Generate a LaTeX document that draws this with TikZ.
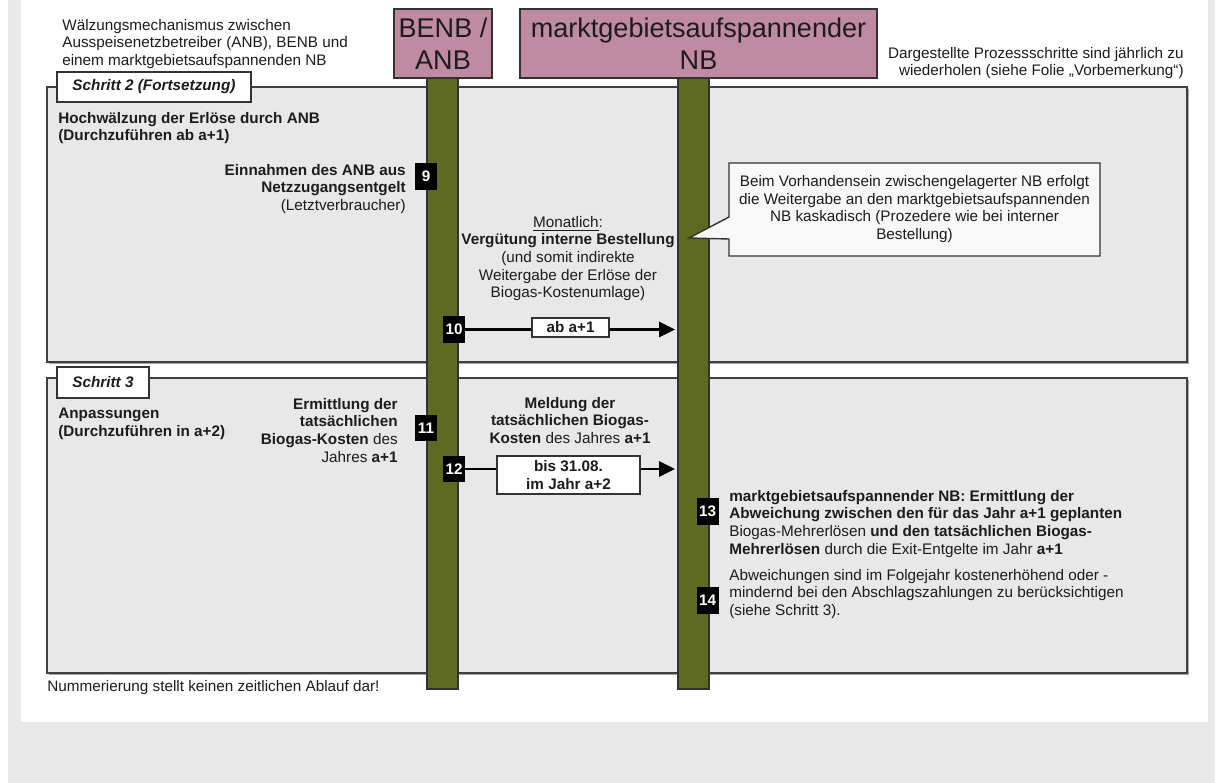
\documentclass[tikz,border=0pt]{standalone}
\usepackage{fontspec}
\setmainfont{Liberation Sans}
\usetikzlibrary{arrows.meta}
\definecolor{framegray}{RGB}{233,233,233}
\definecolor{boxgray}{RGB}{232,232,232}
\definecolor{lifegreen}{RGB}{94,106,33}
\definecolor{headmauve}{RGB}{192,139,162}
\definecolor{notefill}{RGB}{248,248,248}
\definecolor{inkgray}{RGB}{28,28,28}
\begin{document}
\begin{tikzpicture}[x=0.02cm,y=-0.02cm,line join=miter,
    txt/.style={inner sep=0pt,text=inkgray,font=\fontsize{8.7}{10}\selectfont},
    txtb/.style={txt,font=\fontsize{8.7}{10}\selectfont\bfseries},
    stepbox/.style={draw=black!75,line width=0.8pt,fill=boxgray},
    boxshadow/.style={fill=black!35},
    tab/.style={draw=black!80,line width=0.8pt,fill=white,inner sep=0pt,text=inkgray,font=\fontsize{8.7}{10}\selectfont\bfseries\itshape},
    lifeline/.style={draw=black!80,line width=0.6pt,fill=lifegreen},
    header/.style={draw=black!80,line width=0.8pt,fill=headmauve,align=center,inner sep=0pt,text=inkgray,font=\fontsize{15.4}{18}\selectfont},
    badge/.style={fill=black,text=white,inner sep=0pt,minimum width=0.44cm,minimum height=0.54cm,font=\fontsize{8.7}{10}\selectfont\bfseries},
    msg/.style={line width=1.7pt,-{Triangle[length=0.32cm,width=0.3cm]}},
    lbl/.style={draw=black!80,line width=0.8pt,fill=white,inner sep=0pt,align=center,text=inkgray,font=\fontsize{8.7}{10}\selectfont\bfseries},
    callout/.style={draw=black!80,line width=0.8pt,fill=notefill}]
  \useasboundingbox (0,0) rectangle (1219,783);
  \fill[white] (0,0) rectangle (1219,783);
  \fill[framegray] (8,0) rectangle (1215,783);
  \fill[white] (21,0) rectangle (1208,722);

  % Schritt 2 und 3
  \fill[boxshadow] (49,89) rectangle (1189,364);
  \draw[stepbox] (47,87) rectangle (1187,362);
  \node[tab,minimum width=3.88cm,minimum height=0.6cm] (tab2) at (154,87) {Schritt 2 (Fortsetzung)};
  \fill[boxshadow] (49,380) rectangle (1189,675);
  \draw[stepbox] (47,378) rectangle (1187,673);
  \node[tab,minimum width=1.84cm,minimum height=0.62cm] (tab3) at (103,382.5) {Schritt 3};

  % Lebenslinien
  \draw[lifeline] (427,78) rectangle (458,689);
  \draw[lifeline] (678,78) rectangle (709,689);
  \node[header,minimum width=1.96cm,minimum height=1.38cm] (benb) at (443,43.5) {BENB /\\ANB};
  \node[header,minimum width=7.14cm,minimum height=1.38cm] (mgnb) at (698.5,43.5) {marktgebietsaufspannender\\NB};

  % Hinweis
  \draw[callout] (729,163) -- (1100,163) -- (1100,256) -- (729,256) -- (729,239) -- (689,238) -- (729,217) -- cycle;
  \node[txt,align=center] (note) at (914.5,209) {Beim Vorhandensein zwischengelagerter NB erfolgt\\die Weitergabe an den marktgebietsaufspannenden\\NB kaskadisch (Prozedere wie bei interner\\Bestellung)};

  % Nummern
  \node[badge] (n9) at (426,176.5) {9};
  \node[badge] (n10) at (454,329.5) {10};
  \node[badge] (n11) at (426,428) {11};
  \node[badge] (n12) at (454,469) {12};
  \node[badge] (n13) at (707.5,511.5) {13};
  \node[badge] (n14) at (707.5,600) {14};

  % Meldungen
  \coordinate (t10) at (675,330);
  \coordinate (t12) at (675,470);
  \draw[msg] (n10.east) -- (n10.east -| t10);
  \node[lbl,minimum width=1.54cm,minimum height=0.38cm] (l10) at (570.5,327.5) {ab a+1};
  \draw[msg] (n12.east) -- (n12.east -| t12);
  \node[lbl,minimum width=2.86cm,minimum height=0.76cm] (l12) at (568.5,475) {bis 31.08.\\im Jahr a+2};

  % Texte
  \node[txt,anchor=north west,align=left] (intro) at (62,19) {Wälzungsmechanismus zwischen\\Ausspeisenetzbetreiber (ANB), BENB und\\einem marktgebietsaufspannenden NB};
  \node[txt,anchor=north east,align=right] (repeat) at (1184,47) {Dargestellte Prozessschritte sind jährlich zu\\wiederholen (siehe Folie „Vorbemerkung“)};
  \node[txtb,anchor=north west,align=left] (s2head) at (58,112) {Hochwälzung der Erlöse durch ANB\\(Durchzuführen ab a+1)};
  \node[txt,anchor=north east,align=right] (t9) at (406,164) {\textbf{Einnahmen des ANB aus}\\\textbf{Netzzugangsentgelt}\\(Letztverbraucher)};
  \node[txt,anchor=north,align=center] (t10txt) at (568,216) {\underline{Monatlich}:\\\textbf{Vergütung interne Bestellung}\\(und somit indirekte\\Weitergabe der Erlöse der\\Biogas-Kostenumlage)};
  \node[txtb,anchor=north west,align=left] (s3head) at (58,408) {Anpassungen\\(Durchzuführen in a+2)};
  \node[txt,anchor=north east,align=right] (t11) at (398,398) {\textbf{Ermittlung der}\\\textbf{tatsächlichen}\\\textbf{Biogas-Kosten} des\\Jahres \textbf{a+1}};
  \node[txt,anchor=north,align=center] (t12txt) at (570,397) {\textbf{Meldung der}\\\textbf{tatsächlichen Biogas-}\\\textbf{Kosten} des Jahres \textbf{a+1}};
  \node[txt,anchor=north west,align=left] (t13) at (729,490) {\textbf{marktgebietsaufspannender NB: Ermittlung der}\\\textbf{Abweichung zwischen den für das Jahr a+1 geplanten}\\Biogas-Mehrerlösen \textbf{und den tatsächlichen Biogas-}\\\textbf{Mehrerlösen} durch die Exit-Entgelte im Jahr \textbf{a+1}};
  \node[txt,anchor=north west,align=left] (t14) at (729,569) {Abweichungen sind im Folgejahr kostenerhöhend oder -\\mindernd bei den Abschlagszahlungen zu berücksichtigen\\(siehe Schritt 3).};
  \node[txt,anchor=north west] (numnote) at (47,680) {Nummerierung stellt keinen zeitlichen Ablauf dar!};
\end{tikzpicture}
\end{document}
